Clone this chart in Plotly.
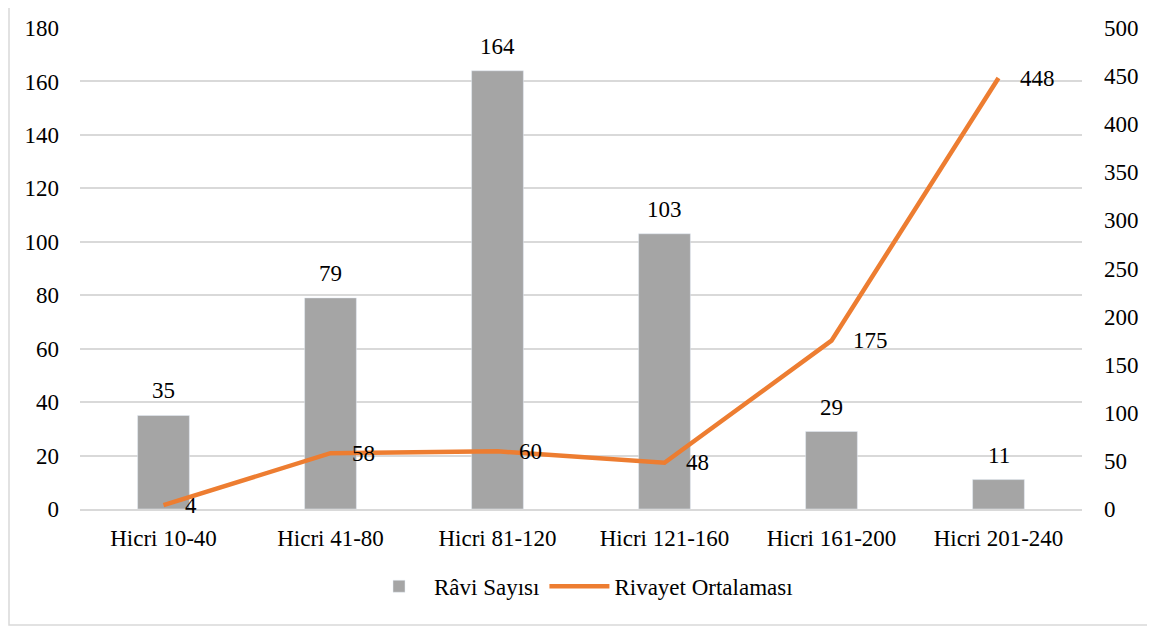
"""Râvi sayısı ve rivayet ortalaması grafiği"""

import plotly.graph_objects as go

# veriler
donemler = ["Hicri 10-40", "Hicri 41-80", "Hicri 81-120",
            "Hicri 121-160", "Hicri 161-200", "Hicri 201-240"]
ravi_sayisi = [35, 79, 164, 103, 29, 11]
rivayet_ortalamasi = [4, 58, 60, 48, 175, 448]

FONT = "Liberation Serif, Times New Roman, serif"
GRI = "#A5A5A5"
TURUNCU = "#ED7D31"
IZGARA = "#D9D9D9"
yazi = dict(family=FONT, size=23, color="#000000")

fig = go.Figure()

fig.add_trace(go.Bar(
    x=donemler, y=ravi_sayisi, name="Râvi Sayısı",
    marker_color=GRI, width=0.31,
))

fig.add_trace(go.Scatter(
    x=donemler, y=rivayet_ortalamasi, name="Rivayet Ortalaması",
    mode="lines", yaxis="y2",
    line=dict(color=TURUNCU, width=4.5),
))

# çubuk etiketleri üstte
for d, v in zip(donemler, ravi_sayisi):
    fig.add_annotation(x=d, y=v, xref="x", yref="y", text=str(v),
                       showarrow=False, yanchor="bottom", yshift=10, font=yazi)

# çizgi etiketleri noktanın sağında
for d, v in zip(donemler, rivayet_ortalamasi):
    fig.add_annotation(x=d, y=v, xref="x", yref="y2", text=str(v),
                       showarrow=False, xanchor="left", xshift=19, yshift=0,
                       font=yazi)

fig.update_layout(
    width=1147, height=619,
    paper_bgcolor="white", plot_bgcolor="white",
    margin=dict(l=72, r=73, t=20, b=118, autoexpand=False),
    font=yazi,
    showlegend=True,
    legend=dict(orientation="h", x=0.5, xanchor="center", y=-0.116, yanchor="top",
                font=yazi, itemwidth=60),
    xaxis=dict(showgrid=False, showline=True, linecolor=IZGARA, linewidth=1.5,
               ticks="", ticklabelstandoff=8, tickfont=yazi),
    yaxis=dict(range=[0, 180], dtick=20, showgrid=True, gridcolor=IZGARA,
               gridwidth=1.5, zeroline=False, ticks="", ticklabelstandoff=20,
               tickfont=yazi),
    yaxis2=dict(range=[0, 500], dtick=50, overlaying="y", side="right",
                showgrid=False, zeroline=False, ticks="", ticklabelstandoff=21,
                tickfont=yazi),
    shapes=[dict(type="rect", xref="paper", yref="paper",
                 x0=-71 / 1002, x1=1070 / 1002, y0=-116 / 481, y1=1.2,
                 line=dict(color=IZGARA, width=1.5), layer="below")],
)

fig.write_html("out.html")
